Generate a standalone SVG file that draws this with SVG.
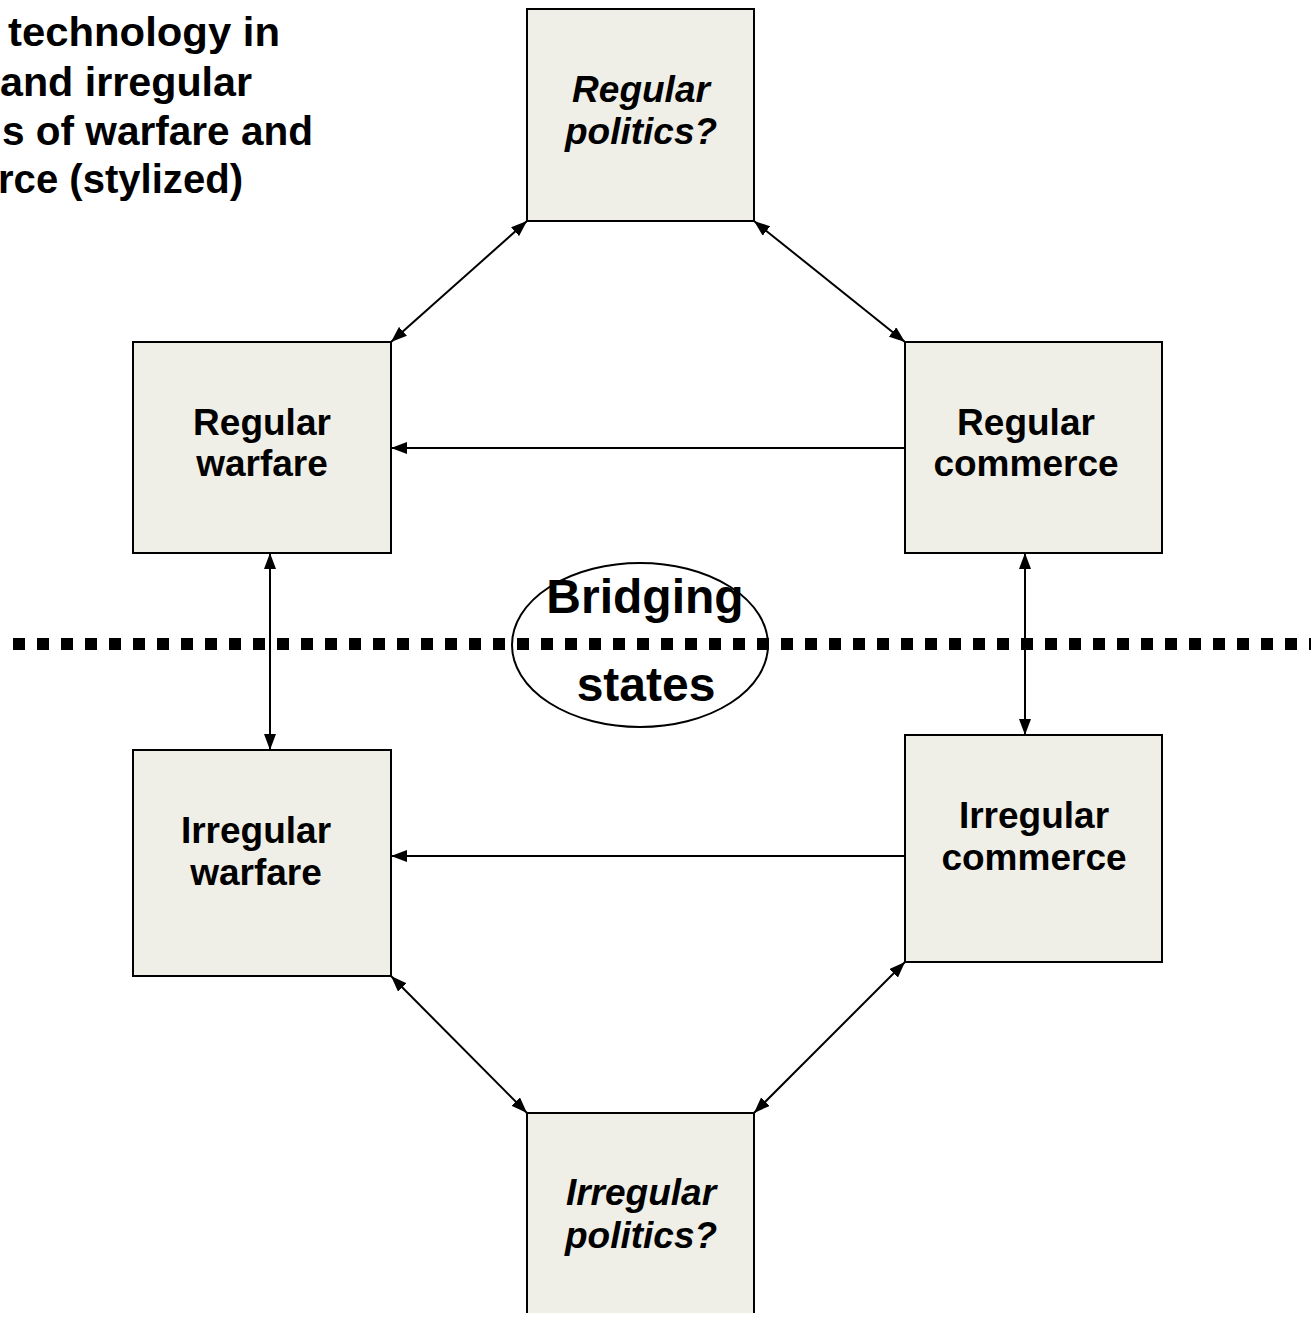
<svg xmlns="http://www.w3.org/2000/svg" width="1311" height="1323" viewBox="0 0 1311 1323">
<style>
.box{fill:#EFEFE7;stroke:#000;stroke-width:2}
.t{font-family:"Liberation Sans",Arial,sans-serif;font-weight:bold;font-size:37px;fill:#000;text-anchor:middle}
.i{font-style:italic}
.b{font-size:48px}
.title{font-family:"Liberation Sans",Arial,sans-serif;font-weight:bold;font-size:41px;fill:#000}
.c{stroke:#000;stroke-width:2;fill:none;marker-start:url(#a);marker-end:url(#a)}
.s{stroke:#000;stroke-width:2;fill:none;marker-end:url(#a)}
</style>
<defs>
<marker id="a" viewBox="0 0 16 12" refX="16" refY="6" markerWidth="16" markerHeight="12" markerUnits="userSpaceOnUse" orient="auto-start-reverse">
<path d="M0,0 L16,6 L0,12 Z" fill="#000"/>
</marker>
</defs>
<rect width="1311" height="1323" fill="#fff"/>
<g id="title">
<text class="title" x="8" y="46" textLength="272" lengthAdjust="spacingAndGlyphs">technology in</text>
<text class="title" x="0" y="96" textLength="252" lengthAdjust="spacingAndGlyphs">and irregular</text>
<text class="title" x="2" y="145" textLength="311" lengthAdjust="spacingAndGlyphs">s of warfare and</text>
<text class="title" x="-2" y="193" textLength="245" lengthAdjust="spacingAndGlyphs">rce (stylized)</text>
</g>
<g id="connectors">
<line class="c" x1="527" y1="221" x2="391" y2="342"/>
<line class="c" x1="754" y1="221" x2="905" y2="342"/>
<line class="s" x1="905" y1="448" x2="391" y2="448"/>
<line class="c" x1="270" y1="553" x2="270" y2="750"/>
<line class="c" x1="1025" y1="553" x2="1025" y2="735"/>
<line class="s" x1="905" y1="856" x2="391" y2="856"/>
<line class="c" x1="391" y1="976" x2="527" y2="1113"/>
<line class="c" x1="905" y1="962" x2="754" y2="1113"/>
</g>
<g id="bridging">
<ellipse cx="640" cy="645" rx="128" ry="82" fill="#fff" stroke="#000" stroke-width="2"/>
</g>
<g id="divider">
<line x1="13" y1="644" x2="1311" y2="644" stroke="#000" stroke-width="12" stroke-dasharray="12 12"/>
</g>
<g id="bridging-label">
<text class="t b" x="645" y="613">Bridging</text>
<text class="t b" x="646" y="701">states</text>
</g>
<g id="regular-politics">
<rect class="box" x="527" y="9" width="227" height="212"/>
<text class="t i" x="641" y="102">Regular</text>
<text class="t i" x="641" y="144">politics?</text>
</g>
<g id="regular-warfare">
<rect class="box" x="133" y="342" width="258" height="211"/>
<text class="t" x="262" y="435">Regular</text>
<text class="t" x="262" y="476">warfare</text>
</g>
<g id="regular-commerce">
<rect class="box" x="905" y="342" width="257" height="211"/>
<text class="t" x="1026" y="435">Regular</text>
<text class="t" x="1026" y="476">commerce</text>
</g>
<g id="irregular-warfare">
<rect class="box" x="133" y="750" width="258" height="226"/>
<text class="t" x="256" y="843">Irregular</text>
<text class="t" x="256" y="885">warfare</text>
</g>
<g id="irregular-commerce">
<rect class="box" x="905" y="735" width="257" height="227"/>
<text class="t" x="1034" y="828">Irregular</text>
<text class="t" x="1034" y="870">commerce</text>
</g>
<g id="irregular-politics">
<rect x="527" y="1113" width="227" height="200" fill="#EFEFE7"/>
<path d="M527,1313 V1113 H754 V1313" fill="none" stroke="#000" stroke-width="2"/>
<text class="t i" x="641" y="1205">Irregular</text>
<text class="t i" x="641" y="1248">politics?</text>
</g>
</svg>
